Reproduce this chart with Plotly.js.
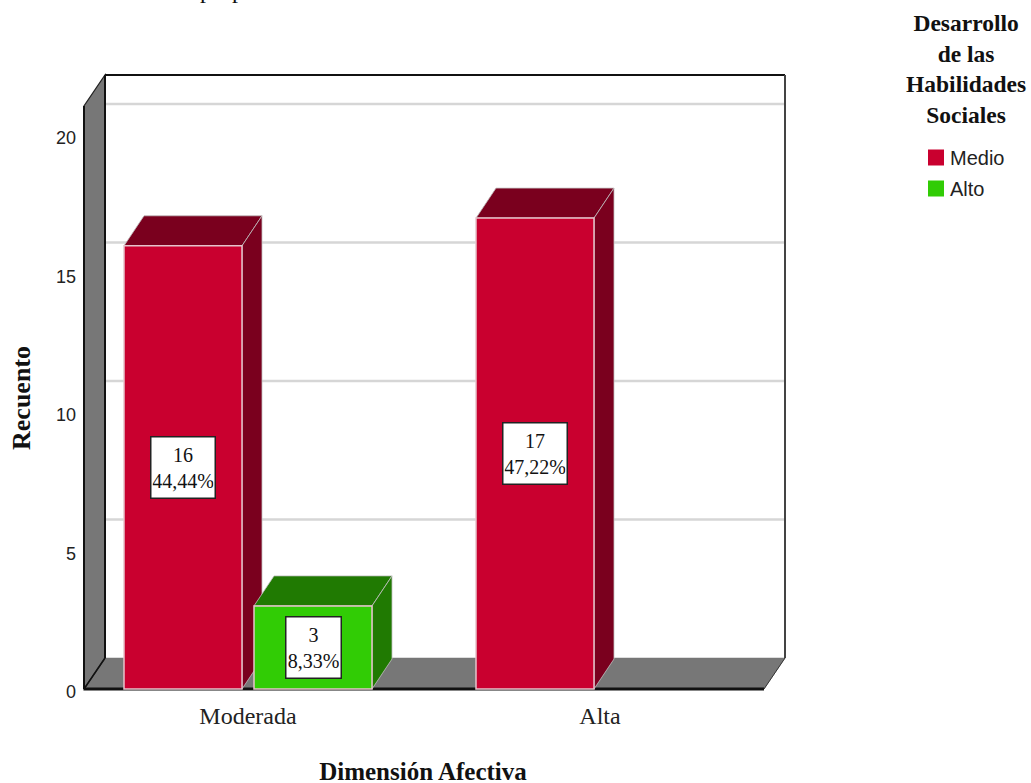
<!DOCTYPE html>
<html><head><meta charset="utf-8">
<script src="https://cdn.plot.ly/plotly-3.0.1.min.js"></script>
<style>html,body{margin:0;padding:0;background:#fff;overflow:hidden}</style>
</head><body><div id="chart" style="width:1031px;height:783px"></div>
<script>
// ---- data ----
const categories = ['Moderada', 'Alta'];
const medioValues = [16, 17];
const altoValues = [3, null];
const medioPct = ['44,44%', '47,22%'];
const altoPct = ['8,33%', null];
const yTicks = [0, 5, 10, 15, 20];
const seriesNames = ['Medio', 'Alto'];
const legendTitle = 'Desarrollo<br>de las<br>Habilidades<br>Sociales';
const xTitle = 'Dimensión Afectiva';
const yTitle = 'Recuento';
const sourceNote = 'Fuente: Elaboración propia';

// ---- styling ----
const red = '#c9002f', redDark = '#7a001e', green = '#31cc05', greenDark = '#207a02';
const wall = '#777777', gridCol = '#d6d6d6', edge = '#111111', barEdge = '#e6c4cc';
const serif = '"Liberation Serif", serif', sans = '"Liberation Sans", sans-serif';

// box of the oblique chart, and the slightly larger plot area, in pixels
const L = 84, R = 785, T = 75, B = 689, W = 1031, H = 783;
const PL = 80, PR = 790, PT = 70, PB = 693;
const pxPerUnit = 27.7, pxPerCat = 352, cat0Px = 248;
const catAt = px => (px - cat0Px) / pxPerCat;
const valAt = px => (B - px) / pxPerUnit;
const xr = [catAt(PL), catAt(PR)];
const yr = [valAt(PB), valAt(PT)];
const paperX = px => (px - PL) / (PR - PL);
const paperY = px => (PB - px) / (PB - PT);
// oblique depth in axis units
const wallDx = 21 / pxPerCat, wallDy = 31 / pxPerUnit;
const barDx = 20 / pxPerCat, barDy = 30 / pxPerUnit;
const barW = 118 / pxPerCat, slot = 130 / pxPerCat;
const left = catAt(L), right = catAt(R), frontR = catAt(764), top_ = valAt(T);
const wallTopFront = top_ - wallDy;

const poly = (pts, fill, lineCol, lw, layer) => ({
  type: 'path', xref: 'x', yref: 'y', layer: layer || 'above',
  path: 'M' + pts.map(p => p[0] + ',' + p[1]).join('L') + 'Z',
  fillcolor: fill, line: { color: lineCol, width: lw === undefined ? 1 : lw }
});
const seg = (x0, y0, x1, y1, c, w, layer) => ({
  type: 'line', xref: 'x', yref: 'y', layer: layer || 'below', x0, y0, x1, y1, line: { color: c, width: w }
});

const shapes = [];
// walls and floor
shapes.push(poly([[left, 0], [left + wallDx, wallDy], [right, wallDy], [frontR, 0]], wall, '#777', 0.5, 'below'));
shapes.push(poly([[left, 0], [left + wallDx, wallDy], [left + wallDx, top_], [left, wallTopFront]], wall, '#222', 1.2, 'below'));
// back-wall gridlines
yTicks.slice(1).forEach(t => shapes.push(seg(left + wallDx, t + wallDy, right, t + wallDy, gridCol, 2.4)));
// frame
shapes.push(seg(left + wallDx, top_, right, top_, edge, 2));
shapes.push(seg(right, top_, right, wallDy, '#444', 2));
shapes.push(seg(left + wallDx, top_, left + wallDx, wallDy, edge, 2));
shapes.push(seg(left, 0, frontR, 0, edge, 3));
shapes.push(seg(left, 0, left, wallTopFront, edge, 2));
shapes.push(seg(left, 0, left + wallDx, wallDy, edge, 1.5));
shapes.push(seg(frontR, 0, right, wallDy, '#333', 1));
// bar depth faces, built from the values
function addFaces(vals, off, topCol, side) {
  vals.forEach((v, i) => {
    if (v === null) return;
    const x0 = i + off - barW / 2, x1 = i + off + barW / 2;
    shapes.push(poly([[x0, v], [x0 + barDx, v + barDy], [x1 + barDx, v + barDy], [x1, v]], topCol, '#c0c0c0', 0.8, 'below'));
    shapes.push(poly([[x1, 0], [x1 + barDx, barDy], [x1 + barDx, v + barDy], [x1, v]], side, '#c0c0c0', 0.8, 'below'));
  });
}
addFaces(medioValues, -slot / 2, redDark, redDark);
addFaces(altoValues, slot / 2, greenDark, greenDark);

const label = (i, off, v, pct) => v === null ? null : ({
  x: i + off, y: v / 2, xref: 'x', yref: 'y', showarrow: false,
  text: v + '<br>' + pct, align: 'center',
  font: { family: serif, size: 20, color: '#111' },
  bgcolor: '#fff', bordercolor: '#222', borderwidth: 1.5, borderpad: 1,
  width: pct.length > 5 ? 61 : 52, height: 58
});
const annotations = [
  ...medioValues.map((v, i) => label(i, -slot / 2, v, medioPct[i])),
  ...altoValues.map((v, i) => label(i, slot / 2, v, altoPct[i]))
].filter(Boolean);
annotations.push({ xref: 'paper', yref: 'paper', x: paperX(966), y: paperY(68.5), showarrow: false,
  text: legendTitle, align: 'center', font: { family: serif, size: 23.5, color: '#111', weight: 'bold' },
  xanchor: 'center', yanchor: 'middle' });
annotations.push({ xref: 'paper', yref: 'paper', x: paperX(264), y: paperY(5), xanchor: 'right', yanchor: 'bottom', showarrow: false,
  text: sourceNote, font: { family: serif, size: 24, color: '#111' } });

const barTrace = (name, y, color) => ({
  type: 'bar', name, x: categories, y, marker: { color, line: { color: barEdge, width: 1.5 } },
  showlegend: false, hoverinfo: 'x+y'
});
const legendTrace = (name, color) => ({
  type: 'scatter', mode: 'markers', name, legendgroup: name, x: [categories[0]], y: [null],
  marker: { symbol: 'square', size: 16, color }, showlegend: true
});

const data = [
  barTrace(seriesNames[0], medioValues, red),
  barTrace(seriesNames[1], altoValues, green),
  legendTrace(seriesNames[0], red),
  legendTrace(seriesNames[1], green)
];

const layout = {
  width: W, height: H, paper_bgcolor: '#fff', plot_bgcolor: '#fff',
  margin: { l: PL, r: W - PR, t: PT, b: H - PB, autoexpand: false },
  barmode: 'group', bargap: 1 - 2 * slot, bargroupgap: 1 - barW / slot,
  showlegend: true,
  legend: { x: paperX(916), y: paperY(138), xanchor: 'left', yanchor: 'top', traceorder: 'grouped',
    font: { family: sans, size: 20, color: '#222' }, tracegroupgap: 2, bgcolor: 'rgba(0,0,0,0)' },
  xaxis: { type: 'category', categoryorder: 'array', categoryarray: categories, range: xr, showgrid: false, zeroline: false,
    showline: false, ticks: '', ticklabelstandoff: 6,
    tickfont: { family: serif, size: 24, color: '#222' },
    title: { text: xTitle, font: { family: serif, size: 25, color: '#111', weight: 'bold' }, standoff: 26 } },
  yaxis: { range: yr, tickvals: yTicks, ticktext: yTicks.map(String), showgrid: false, zeroline: false, showline: false, ticks: '',
    ticklabelstandoff: 3, ticklabelshift: 3,
    tickfont: { family: sans, size: 18, color: '#222' },
    title: { text: yTitle, font: { family: serif, size: 26, color: '#111', weight: 'bold' }, standoff: 26 } },
  shapes, annotations
};
Plotly.newPlot('chart', data, layout, { staticPlot: true, displayModeBar: false }).then(() => {
  const nudge = (sel, dx, dy) => {
    const t = document.querySelector(sel);
    if (t) t.setAttribute('transform', 'translate(' + dx + ',' + dy + ') ' + (t.getAttribute('transform') || ''));
  };
  nudge('.xtitle', -12, 8);
  nudge('.ytitle', 7, 16.5);
  document.querySelectorAll('.legendtext').forEach(t => t.setAttribute('x', +t.getAttribute('x') - 6));
});
</script></body></html>
